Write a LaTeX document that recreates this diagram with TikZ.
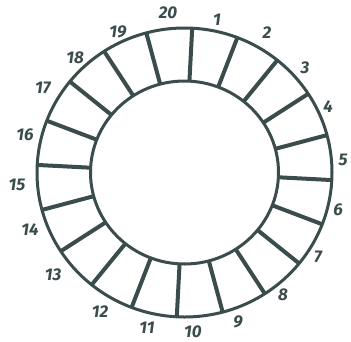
\documentclass[tikz,border=0pt]{standalone}
\usepackage{fontspec}
\setmainfont{Fira Sans}
\usetikzlibrary{calc}
\definecolor{ink}{HTML}{3B4C4C}
\begin{document}
\begin{tikzpicture}[x=1pt,y=-1pt,
  ringline/.style={draw=ink,line width=3pt},
  spoke/.style={draw=ink,line width=4pt},
  numlabel/.style={text=ink,font=\fontsize{17}{17}\selectfont\bfseries\itshape,inner sep=0pt}]
\useasboundingbox (0,0) rectangle (351,341);
\coordinate (c) at (184.5,172.5);
\draw[ringline] (c) ellipse [x radius=147.5, y radius=144.5];
\draw[ringline] (c) ellipse [x radius=94, y radius=91.5];
\foreach \k in {0,...,19}{
  \pgfmathsetmacro{\a}{87-18*\k}
  \draw[spoke] ($(c)+({94*cos(\a)},{-91.5*sin(\a)})$) -- ($(c)+({147.5*cos(\a)},{-144.5*sin(\a)})$);
}
\foreach \n/\x/\y in {1/217/20,2/267/33,3/305/68,4/328/107,5/343/160,6/338/210,7/318/257,8/283/295,9/238/322,10/193/332,11/147/328,12/100/312,13/53/275,14/30/230,15/17/185,16/25/135,17/43/88,18/75/58,19/118/32,20/168/13}{
  \node[numlabel] (l\n) at (\x,\y) {\n};
}
\end{tikzpicture}
\end{document}
